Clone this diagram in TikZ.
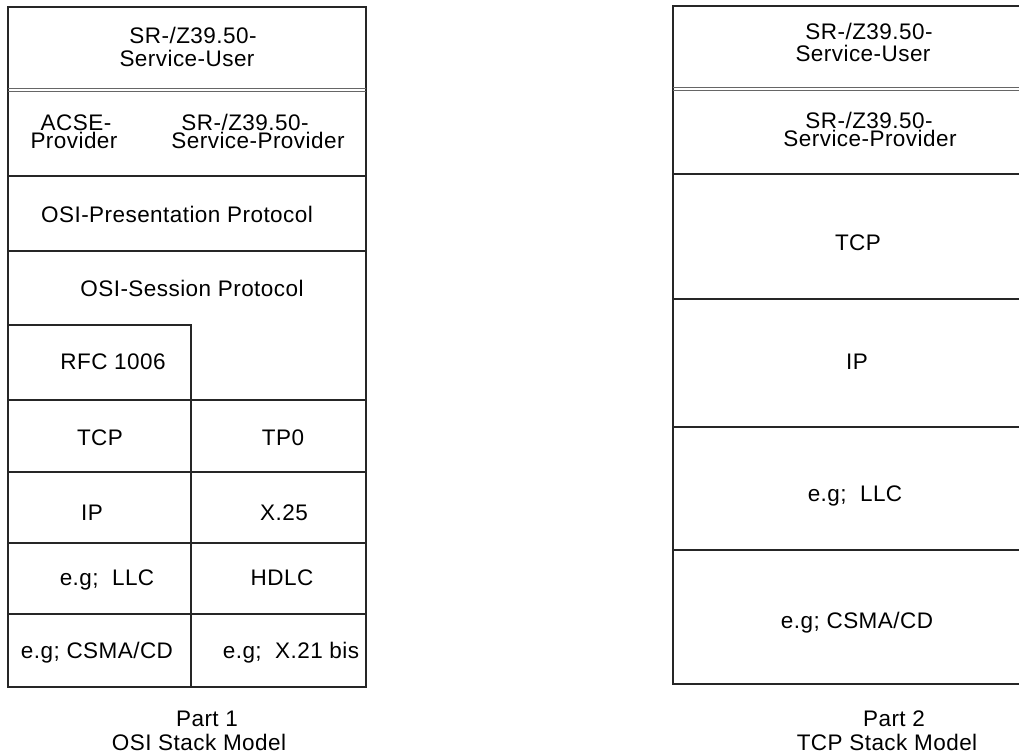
\documentclass[tikz,border=0pt]{standalone}
\usepackage{fontspec}
\setmainfont{Liberation Sans}[LetterSpace=2]
\usetikzlibrary{positioning}
\frenchspacing

\begin{document}
\begin{tikzpicture}[x=1pt,y=-1pt,
    rule/.style={line width=1.2pt,draw=black!85},
    seam/.style={line width=0.9pt,draw=black!60},
    txt/.style={inner sep=0pt,anchor=base,font=\fontsize{22.5}{24}\selectfont}]
  \useasboundingbox (0,0) rectangle (1019,753);
  % Part 1: OSI stack
  \draw[rule] (8,7) rectangle (366,687);
  \draw[seam] (8,88)--(366,88) (8,91)--(366,91);
  \foreach \y in {176,251,400,472,543,614} \draw[rule] (8,\y)--(366,\y);
  \draw[rule] (8,325)--(191,325)--(191,687);
  \node[txt] (usra) at (193,43) {SR-/Z39.50-};
  \node[txt] (usrb) at (187,66) {Service-User};
  \node[txt] (acsa) at (76,130) {ACSE-};
  \node[txt] (acsb) at (74,148) {Provider};
  \node[txt] (spra) at (245,130) {SR-/Z39.50-};
  \node[txt] (sprb) at (258,148) {Service-Provider};
  \node[txt] (pres) at (177,222) {OSI-Presentation Protocol};
  \node[txt] (sess) at (192,296) {OSI-Session Protocol};
  \node[txt] (rfc) at (113,369) {RFC 1006};
  \node[txt] (tcpa) at (100,445) {TCP};
  \node[txt] (tpz) at (283,445) {TP0};
  \node[txt] (ipa) at (92,520) {IP};
  \node[txt] (xtf) at (284,520) {X.25};
  \node[txt] (llca) at (107,585) {e.g;\ \ LLC};
  \node[txt] (hdlc) at (282,585) {HDLC};
  \node[txt] (csma) at (97,658) {e.g; CSMA/CD};
  \node[txt] (xtw) at (291,658) {e.g;\ \ X.21 bis};
  \node[txt] (prta) at (207,726) {Part 1};
  \node[txt] (osim) at (199,750) {OSI Stack Model};
  % Part 2: TCP stack
  \draw[rule] (1019,6)--(673,6)--(673,684)--(1019,684);
  \draw[seam] (673,87)--(1019,87) (673,90)--(1019,90);
  \foreach \y in {174,299,427,550} \draw[rule] (673,\y)--(1019,\y);
  \node[txt] (usrc) at (869,39) {SR-/Z39.50-};
  \node[txt] (usrd) at (863,61) {Service-User};
  \node[txt] (sprc) at (869,128) {SR-/Z39.50-};
  \node[txt] (sprd) at (870,146) {Service-Provider};
  \node[txt] (tcpb) at (858,250) {TCP};
  \node[txt] (ipb) at (857,369) {IP};
  \node[txt] (llcb) at (855,501) {e.g;\ \ LLC};
  \node[txt] (csmb) at (857,628) {e.g; CSMA/CD};
  \node[txt] (prtb) at (894,726) {Part 2};
  \node[txt] (tcpm) at (887,750) {TCP Stack Model};
\end{tikzpicture}
\end{document}
